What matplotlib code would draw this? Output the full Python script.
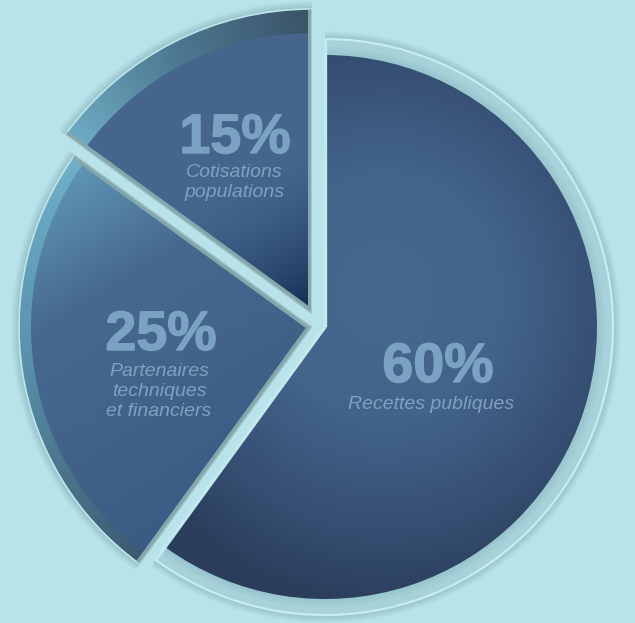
import numpy as np
import matplotlib
matplotlib.use('Agg')
import matplotlib.pyplot as plt
from matplotlib.patches import Wedge
from matplotlib.colors import to_rgb
import matplotlib.patheffects as pe

# ---------------- data ----------------
labels = ['Recettes publiques', 'Partenaires\ntechniques\net financiers', 'Cotisations\npopulations']
values = [60, 25, 15]
pct_labels = ['60%', '25%', '15%']

# ---------------- style ----------------
W, H = 635, 623
BG = '#b9e3ea'
centers_px = [(325, 327), (312, 327), (312, 314)]
r_outer = [288, 293, 305]
r_fill = [272, 281, 281]
pct_pos = [(438, 382), (161, 350), (235, 153)]          # baseline positions (px, y down)
lab_pos = [(431, 409), (159, 376), (234, 177)]          # first line baseline
line_step = 20
PCT_COLOR = '#7ba2c3'
LAB_COLOR = '#819fbf'

fig = plt.figure(figsize=(W / 100, H / 100), dpi=100, facecolor=BG)
ax = fig.add_axes([0, 0, 1, 1])
ax.set_facecolor(BG)

wedges, _ = ax.pie(values, startangle=90, counterclock=False,
                   wedgeprops=dict(linewidth=0, alpha=0))
ax.set_xlim(0, W)
ax.set_ylim(0, H)
ax.set_aspect('auto')
ax.axis('off')

xx, yy = np.meshgrid(np.arange(W) + 0.5, np.arange(H) + 0.5)
px, py = xx, H - yy   # pixel coords (y down), origin='lower' image rows


def lerp_colors(t, stops):
    t = np.clip(t, 0, 1)
    pos = np.array([s[0] for s in stops])
    cols = np.array([to_rgb(s[1]) for s in stops])
    out = np.zeros(t.shape + (4,))
    for k in range(3):
        out[..., k] = np.interp(t, pos, cols[:, k])
    out[..., 3] = 1.0
    return out


def show_clipped(img, patch):
    ax.add_patch(patch)
    im = ax.imshow(img, extent=(0, W, 0, H), origin='lower', interpolation='bilinear', zorder=patch.get_zorder())
    im.set_clip_path(patch)
    return im


def center_data(i):
    cx, cy = centers_px[i]
    return (cx, H - cy)


# fill gradients (per slice)
def fill_img(i):
    if i == 0:
        d = np.hypot((px - 385) / 1.0, (py - 295) / 1.05) / 300.0
        return lerp_colors(d, [(0, '#47688f'), (0.4, '#43638b'), (0.75, '#354e71'), (1, '#2a3d5a')])
    if i == 1:
        v = np.array([220, 350]) / np.hypot(220, 350)
        s = ((px - 60) * v[0] + (py - 170) * v[1]) / np.hypot(220, 350)
        return lerp_colors(s, [(0, '#5f98b8'), (0.3, '#47698f'), (1, '#3a5882')])
    v = np.array([0.55, 1.0]) / np.hypot(0.55, 1.0)
    s = (px - 312) * v[0] + (py - 314) * v[1]
    t = np.clip(1 + s / 150.0, 0, 1) ** 1.6
    return lerp_colors(t, [(0, '#45658d'), (1, '#0f2a50')])


def band_img(i, th1, th2):
    cx, cy = centers_px[i]
    ang = np.degrees(np.arctan2(-(py - cy), px - cx)) % 360
    if i == 1:
        t = (ang - 144) / 90.0
        return lerp_colors(t, [(0, '#6fb0c8'), (0.45, '#5a93ad'), (1, '#3c596f')])
    if i == 2:
        t = (ang - 90) / 54.0
        return lerp_colors(t, [(0, '#3a5368'), (0.5, '#4c7890'), (1, '#6eacc3')])
    return None


order = [0, 1, 2]
for i in order:
    w = wedges[i]
    th1, th2 = w.theta1, w.theta2
    c = center_data(i)
    z = 2 + i * 3

    # soft shadow
    for k in range(1, 9):
        ax.add_patch(Wedge(c, r_outer[i] + k, th1, th2, facecolor='#1c4050',
                           edgecolor='none', alpha=0.022, zorder=z - 0.5))

    if i == 0:
        rim = Wedge(c, r_outer[i], th1, th2, facecolor='#a7d2d9', edgecolor='#c7ecf1',
                    linewidth=1.6, zorder=z)
        ax.add_patch(rim)
        for k in range(1, 6):
            ax.add_patch(Wedge(c, r_fill[i] + k * 1.6, th1, th2, facecolor='#7fb0bb',
                               edgecolor='none', alpha=0.07, zorder=z + 0.1))
    else:
        band = Wedge(c, r_outer[i], th1, th2, facecolor='none', edgecolor='none', zorder=z)
        show_clipped(band_img(i, th1, th2), band)
        ax.add_patch(Wedge(c, r_outer[i], th1, th2, facecolor='none', edgecolor='#bfe5eb',
                           linewidth=1.2, zorder=z + 0.2))

    fill = Wedge(c, r_fill[i], th1, th2, facecolor='none', edgecolor='none', zorder=z + 0.5)
    show_clipped(fill_img(i), fill)

    # straight edges (bevel)
    clipw = Wedge(c, r_outer[i], th1, th2, facecolor='none', edgecolor='none', zorder=z + 0.8)
    ax.add_patch(clipw)
    for th in (th1, th2):
        ex = c[0] + r_outer[i] * np.cos(np.radians(th))
        ey = c[1] + r_outer[i] * np.sin(np.radians(th))
        if i == 0:
            ln, = ax.plot([c[0], ex], [c[1], ey], color='#c3e8ed', lw=2.4,
                          solid_capstyle='butt', zorder=z + 0.8)
        else:
            ln, = ax.plot([c[0], ex], [c[1], ey], color='#84a7ab', lw=6.5,
                          solid_capstyle='butt', zorder=z + 0.8)
            ln.set_clip_path(clipw)
            ln2, = ax.plot([c[0], ex], [c[1], ey], color='#a9cdd1', lw=1.4,
                           solid_capstyle='butt', zorder=z + 0.85)
            ln2.set_clip_path(clipw)

# texts
for i in range(3):
    x, y = pct_pos[i]
    ax.text(x, H - y, pct_labels[i], ha='center', va='baseline', fontsize=40,
            fontweight='bold', family='Liberation Sans', color=PCT_COLOR, zorder=20,
            path_effects=[pe.withStroke(linewidth=1.0, foreground=PCT_COLOR)])
    lx, ly = lab_pos[i]
    for j, line in enumerate(labels[i].split('\n')):
        ax.text(lx, H - (ly + j * line_step), line, ha='center', va='baseline', fontsize=14,
                style='italic', family='Liberation Sans', color=LAB_COLOR, zorder=20)

fig.savefig('out.png', dpi=100, facecolor=BG)
